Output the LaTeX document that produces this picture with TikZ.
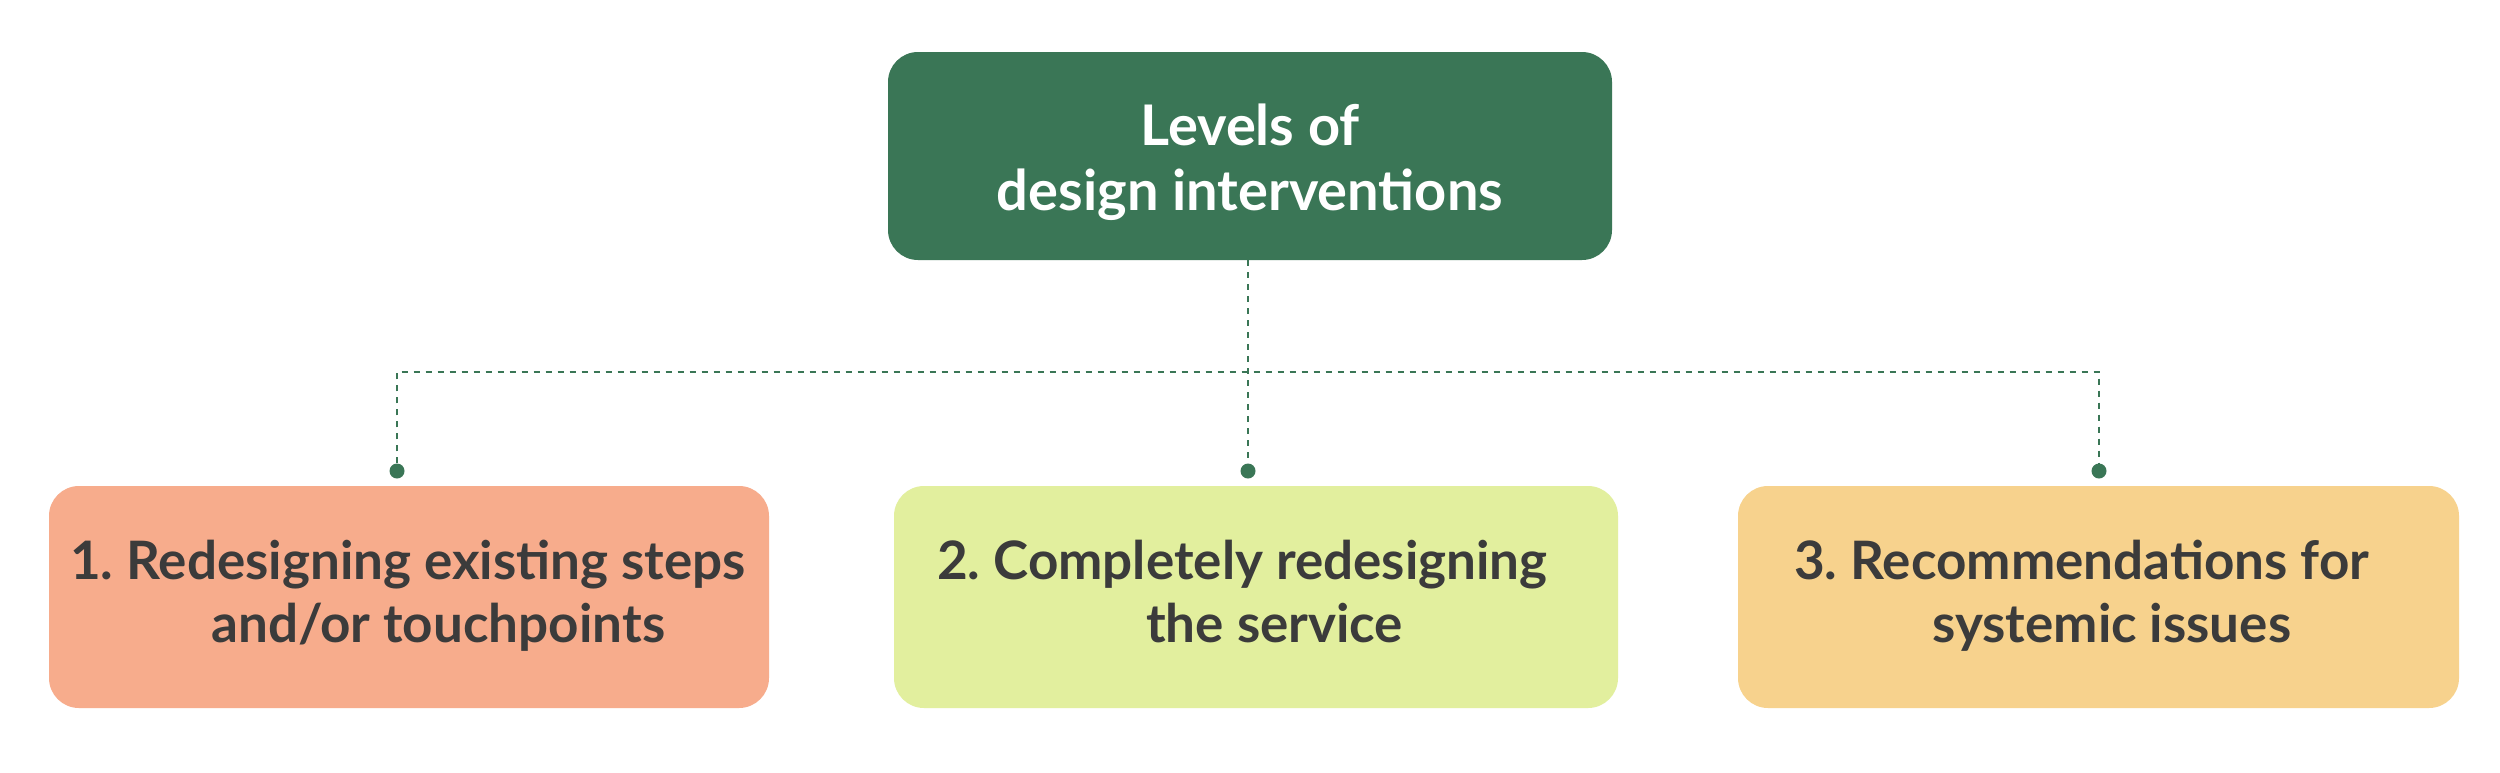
\documentclass[tikz,border=0pt]{standalone}
\usepackage{fontspec}
\setmainfont{Lato}
\definecolor{topgreen}{HTML}{3A7656}
\definecolor{boxsalmon}{HTML}{F7AC8C}
\definecolor{boxlime}{HTML}{E2EF9E}
\definecolor{boxsand}{HTML}{F7D28D}
\definecolor{textgrey}{HTML}{3B3B3B}
\tikzset{
  box/.style={rounded corners=30pt, draw=none},
  toptext/.style={text=white, font=\fontsize{56}{66}\selectfont\bfseries, inner sep=0pt, anchor=base},
  lvltext/.style={text=textgrey, font=\fontsize{53}{63}\selectfont\bfseries, inner sep=0pt, anchor=base west},
  conn/.style={draw=topgreen, line width=2.7pt, dash pattern=on 6pt off 6pt},
  dot/.style={circle, fill=topgreen, inner sep=0pt, minimum size=15pt}
}
\begin{document}
\begin{tikzpicture}[x=1pt,y=-1pt]
\useasboundingbox[fill=white] (0,0) rectangle (2500,772);
% top box
\fill[topgreen, box] (888,52) rectangle (1612,260);
\coordinate (topbottom) at (1248,260);
\node[toptext] (t1) at (1250,145) {Levels of};
\node[toptext] (t2) at (1250,210) {design interventions};
% bottom boxes
\fill[boxsalmon, box] (49,486) rectangle (769,708);
\fill[boxlime, box] (894,486) rectangle (1618,708);
\fill[boxsand, box] (1738,486) rectangle (2459,708);
% dots
\node[dot] (d1) at (397,471) {};
\node[dot] (d2) at (1248,471) {};
\node[dot] (d3) at (2099,471) {};
\coordinate (junction) at (1248,372);
% connectors
\draw[conn] (topbottom) -- (d2);
\draw[conn] (d1) |- (junction) -| (d3);
% texts
\node[lvltext] (a1) at (70,579) {1.\ Redesigning existing steps};
\node[lvltext] (a2) at (211,642) {and/or touchpoints};
\node[lvltext] (b1) at (937,579) {2.\ Completely redesigning};
\node[lvltext] (b2) at (1146,642) {the service};
\node[lvltext] (c1) at (1794,579) {3.\ Recommendations for};
\node[lvltext] (c2) at (1932,642) {systemic issues};
\end{tikzpicture}
\end{document}
